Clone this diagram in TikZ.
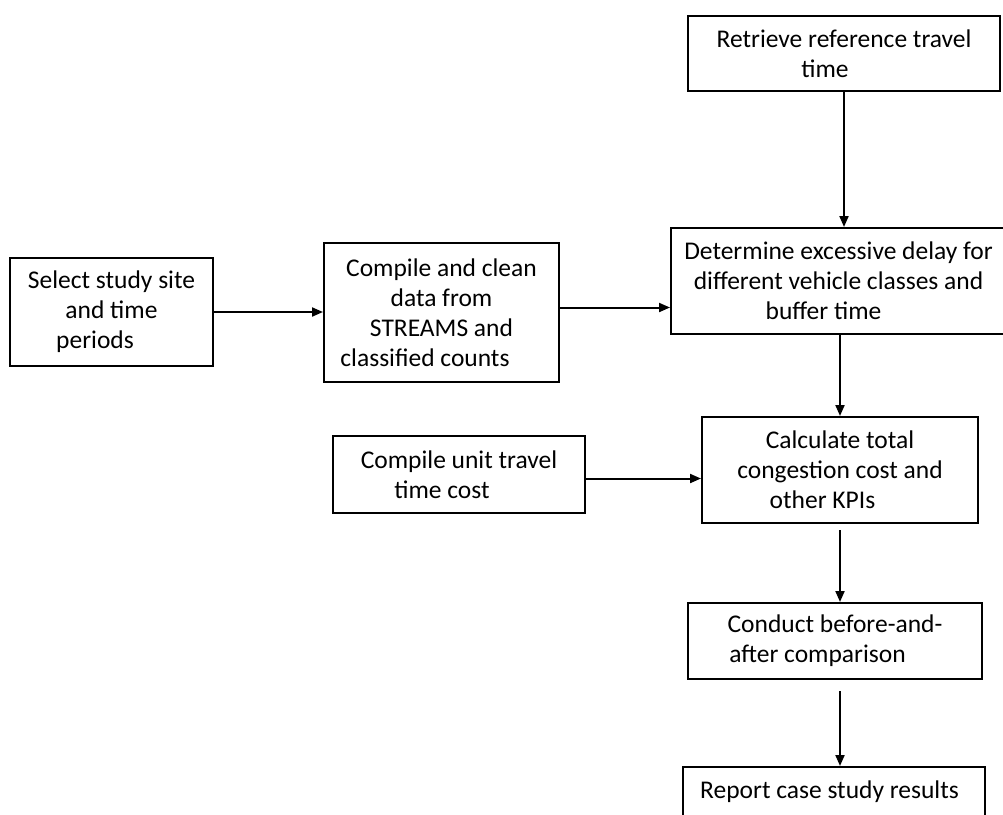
\documentclass[tikz,border=0pt]{standalone}
\usepackage{fontspec}
\setmainfont{Carlito}
\usetikzlibrary{arrows.meta}
\tikzset{
  stage/.style={draw, line width=2pt, align=center, inner sep=0pt,
    font=\fontsize{25.5}{30}\selectfont},
  flow/.style={line width=2pt, -{Triangle[length=11pt,width=9pt]}}
}
\begin{document}
\begin{tikzpicture}[x=1pt,y=-1pt]
      \useasboundingbox (0,0) rectangle (1003,814);
      \clip (0,0) rectangle (1003,814);
      \draw
        (111.5,312) node[stage, minimum width=203pt, minimum height=108pt] (select){Select study site\\and time\\periods\hspace*{33pt}}
        (441.5,312.5) node[stage, minimum width=235pt, minimum height=139pt] (clean){Compile and clean\\data from\\STREAMS and\\classified counts\hspace*{33pt}}
        (844,53.5) node[stage, minimum width=312pt, minimum height=75pt] (retrieve){Retrieve reference travel\\time\hspace*{38pt}}
        (838.5,281) node[stage, minimum width=335pt, minimum height=106pt] (determine){Determine excessive delay for\\different vehicle classes and\\buffer time\hspace*{30pt}}
        (459,474.5) node[stage, minimum width=252pt, minimum height=77pt] (unitcost){Compile unit travel\\time cost\hspace*{34pt}}
        (840,470) node[stage, minimum width=276pt, minimum height=106pt] (calculate){Calculate total\\congestion cost and\\other KPIs\hspace*{35pt}}
        (835,641) node[stage, minimum width=294pt, minimum height=76pt] (conduct){Conduct before-and-\\after comparison\hspace*{35pt}}
        (834,766) node[stage, anchor=north, minimum width=302pt, text height=31pt, text depth=30pt] (report){Report case study results\hspace*{9pt}};
      \begin{scope}[flow]
        \draw (select.east) -- (select.east -| clean.west);
        \draw ([yshift=5pt]clean.east) -- ([yshift=5pt]clean.east -| determine.west);
        \draw (retrieve.south) -- (retrieve.south |- determine.north);
        \draw (determine.south -| calculate.north) -- (calculate.north);
        \draw ([yshift=-4pt]unitcost.east) -- ([yshift=-4pt]unitcost.east -| calculate.west);
        \draw[shorten <=6pt] (calculate.south) -- (calculate.south |- conduct.north);
        \draw[shorten <=11pt] ([xshift=5pt]conduct.south) -- ([xshift=5pt]conduct.south |- report.north);
      \end{scope}
    \end{tikzpicture}
\end{document}
